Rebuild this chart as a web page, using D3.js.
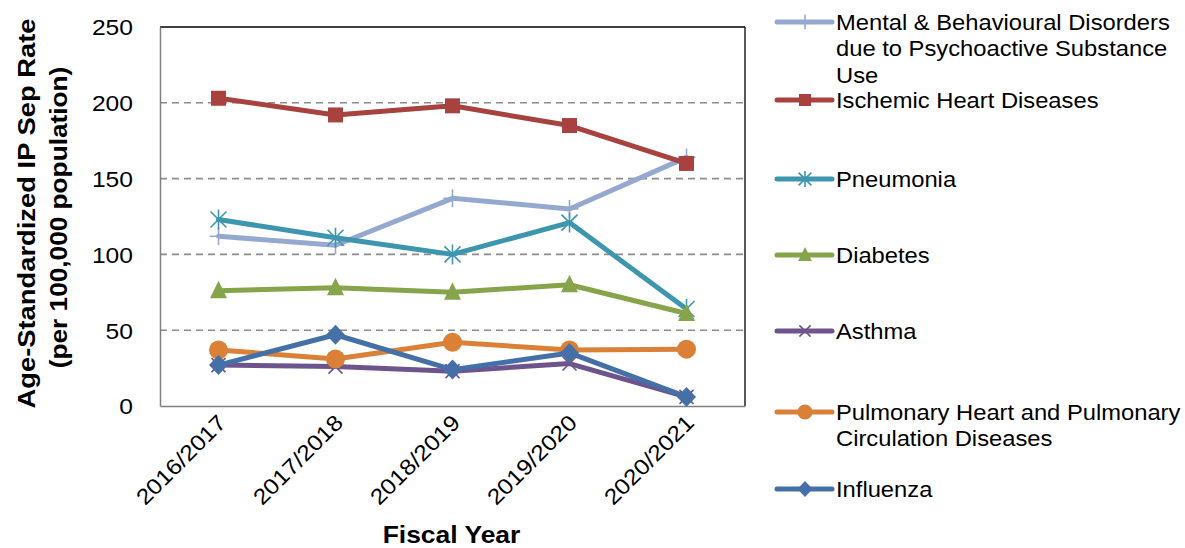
<!DOCTYPE html>
<html>
<head>
<meta charset="utf-8">
<script src="https://cdn.jsdelivr.net/npm/d3@7"></script>
<style>
  body { margin: 0; background: #fff; }
  svg { font-family: "Liberation Sans", Arial, sans-serif; }
</style>
</head>
<body>
<svg id="chart"></svg>
<script>
const years = ['2016/2017', '2017/2018', '2018/2019', '2019/2020', '2020/2021'];
const yTicks = [0, 50, 100, 150, 200, 250];

const mental = [112, 106, 137, 130, 164];
const ischemic = [203, 192, 198, 185, 160];
const pneumonia = [123, 111, 100, 121, 64];
const diabetes = [76, 78, 75, 80, 61];
const asthma = [27, 26, 23, 28, 6];
const pulmonary = [37, 31, 42, 37, 37.5];
const influenza = [27, 47, 24, 35, 6];

const series = [
  { name: ['Mental & Behavioural Disorders', 'due to Psychoactive Substance', 'Use'], values: mental, color: '#95a9d0', marker: 'plus' },
  { name: ['Ischemic Heart Diseases'], values: ischemic, color: '#a8423f', marker: 'square' },
  { name: ['Pneumonia'], values: pneumonia, color: '#3d96ae', marker: 'star' },
  { name: ['Diabetes'], values: diabetes, color: '#86a44a', marker: 'triangle' },
  { name: ['Asthma'], values: asthma, color: '#6e548d', marker: 'cross' },
  { name: ['Pulmonary Heart and Pulmonary', 'Circulation Diseases'], values: pulmonary, color: '#da8137', marker: 'circle' },
  { name: ['Influenza'], values: influenza, color: '#4470a7', marker: 'diamond' }
];

const width = 1185, height = 548;
const margin = { left: 160, top: 27, right: 440, bottom: 142 };
const plotW = width - margin.left - margin.right;
const plotH = height - margin.top - margin.bottom;
const stretch = 1.12; // the original text is a bit wider than Liberation Sans

const svg = d3.select('#chart').attr('width', width).attr('height', height);
const g = svg.append('g').attr('transform', `translate(${margin.left},${margin.top})`);

const x = d3.scaleBand().domain(years).range([0, plotW]);
const y = d3.scaleLinear().domain([0, 250]).range([plotH, 0]);
const cx = d => x(d) + x.bandwidth() / 2;

// gridlines
g.selectAll('.grid')
  .data(yTicks.filter(t => t > 0 && t < 250))
  .enter().append('line')
  .attr('x1', 0).attr('x2', plotW)
  .attr('y1', d => y(d)).attr('y2', d => y(d))
  .attr('stroke', '#8c8c8c').attr('stroke-width', 1.6)
  .attr('stroke-dasharray', '7,5');

// frame
g.append('line').attr('x1', 0).attr('x2', plotW).attr('y1', 0).attr('y2', 0).attr('stroke', '#000').attr('stroke-width', 1.3);
g.append('line').attr('x1', plotW).attr('x2', plotW).attr('y1', 0).attr('y2', plotH).attr('stroke', '#000').attr('stroke-width', 1.3);

// y axis
const yAxis = g.append('g').call(d3.axisLeft(y).tickValues(yTicks).tickSize(0).tickPadding(0));
yAxis.select('.domain').attr('stroke', '#808080').attr('stroke-width', 1.5);
yAxis.selectAll('.tick text')
  .attr('font-size', 22).attr('fill', '#000')
  .attr('x', 0).attr('dy', '0.36em')
  .attr('transform', `translate(-27,0) scale(${stretch},1)`);

// x axis
const xAxis = g.append('g').attr('transform', `translate(0,${plotH})`)
  .call(d3.axisBottom(x).tickSize(0).tickPadding(0));
xAxis.select('.domain').attr('stroke', '#808080').attr('stroke-width', 1.5);
xAxis.selectAll('.tick text')
  .attr('font-size', 22).attr('fill', '#000')
  .attr('text-anchor', 'end')
  .attr('y', 0).attr('dy', 0)
  .attr('transform', `translate(9,18) rotate(-45) scale(${stretch},1)`);

// axis titles
svg.append('text')
  .attr('transform', `translate(35,${margin.top + plotH / 2 - 3}) rotate(-90) scale(1.14,1)`)
  .attr('text-anchor', 'middle').attr('font-size', 24).attr('font-weight', 'bold')
  .text('Age-Standardized IP Sep Rate');
svg.append('text')
  .attr('transform', `translate(67,${margin.top + plotH / 2 + 1}) rotate(-90) scale(1.14,1)`)
  .attr('text-anchor', 'middle').attr('font-size', 23).attr('font-weight', 'bold')
  .text('(per 100,000 population)');
svg.append('text')
  .attr('transform', `translate(${margin.left + plotW / 2 - 1},543) scale(1.15,1)`)
  .attr('text-anchor', 'middle').attr('font-size', 23).attr('font-weight', 'bold')
  .text('Fiscal Year');

function drawMarker(sel, type, color, s) {
  if (type === 'square') {
    sel.append('rect').attr('x', -7.5 * s).attr('y', -7.5 * s).attr('width', 15 * s).attr('height', 15 * s).attr('fill', color);
  } else if (type === 'circle') {
    sel.append('circle').attr('r', 9.5 * s).attr('fill', color);
  } else if (type === 'triangle') {
    sel.append('path').attr('d', `M0,${-10 * s}L${8.5 * s},${7.5 * s}L${-8.5 * s},${7.5 * s}Z`).attr('fill', color);
  } else if (type === 'diamond') {
    sel.append('path').attr('d', `M0,${-10 * s}L${9.5 * s},0L0,${10 * s}L${-9.5 * s},0Z`).attr('fill', color);
  } else if (type === 'plus') {
    sel.append('path').attr('d', `M0,${-9 * s}V${9 * s}M${-9 * s},0H${9 * s}`).attr('stroke', color).attr('stroke-width', 1.6);
  } else if (type === 'cross') {
    sel.append('path').attr('d', `M${-7 * s},${-7 * s}L${7 * s},${7 * s}M${7 * s},${-7 * s}L${-7 * s},${7 * s}`).attr('stroke', color).attr('stroke-width', 1.6);
  } else if (type === 'star') {
    const r = 8 * s;
    sel.append('path').attr('d', `M${-r},${-r}L${r},${r}M${r},${-r}L${-r},${r}M0,${-r * 1.25}V${r * 1.25}`).attr('stroke', color).attr('stroke-width', 1.6);
  }
}

const line = d3.line().x((d, i) => cx(years[i])).y(d => y(d));

series.forEach(s => {
  g.append('path').datum(s.values)
    .attr('d', line).attr('fill', 'none')
    .attr('stroke', s.color).attr('stroke-width', 5)
    .attr('stroke-linejoin', 'round').attr('stroke-linecap', 'round');
  s.values.forEach((v, i) => {
    const m = g.append('g').attr('transform', `translate(${cx(years[i])},${y(v)})`);
    drawMarker(m, s.marker, s.color, 1);
  });
});

// legend
const legendY = [22, 100, 179, 255, 331, 412, 489];
const leg = svg.append('g');
series.forEach((s, i) => {
  const ly = legendY[i];
  const item = leg.append('g').attr('transform', `translate(777,${ly})`);
  item.append('line').attr('x1', 0).attr('x2', 55).attr('y1', 0).attr('y2', 0)
    .attr('stroke', s.color).attr('stroke-width', 5).attr('stroke-linecap', 'round');
  const m = item.append('g').attr('transform', 'translate(28,0)');
  drawMarker(m, s.marker, s.color, 0.8);
  const t = item.append('text')
    .attr('transform', 'translate(59,8) scale(1.08,1)')
    .attr('font-size', 22).attr('fill', '#000');
  s.name.forEach((ln, j) => {
    t.append('tspan').attr('x', 0).attr('dy', j === 0 ? 0 : 26.5).text(ln);
  });
});
</script>
</body>
</html>
